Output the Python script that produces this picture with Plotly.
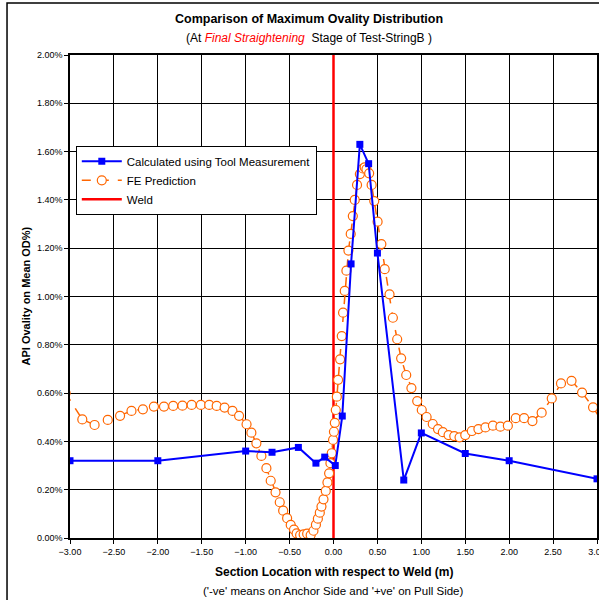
import plotly.graph_objects as go

# Measured ovality (tool measurement), section location in m, ovality in %
meas_x = [-3.0, -2.0, -1.0, -0.7, -0.4, -0.2, -0.1, 0.02, 0.1, 0.2, 0.3, 0.4, 0.5, 0.8, 1.0, 1.5, 2.0, 3.0]
meas_y = [0.32, 0.32, 0.36, 0.355, 0.375, 0.31, 0.335, 0.30, 0.505, 1.135, 1.63, 1.55, 1.18, 0.24, 0.435, 0.35, 0.32, 0.245]

# FE prediction, section location in m, ovality in %
fe_x = [-3.05, -2.86, -2.72, -2.57, -2.43, -2.30, -2.17, -2.045, -1.93, -1.825, -1.72, -1.615,
        -1.51, -1.415, -1.33, -1.24, -1.15, -1.075, -0.99, -0.935, -0.878, -0.821, -0.764,
        -0.715, -0.66, -0.612, -0.573, -0.528, -0.487, -0.45, -0.42, -0.38, -0.34, -0.30,
        -0.26, -0.228, -0.20, -0.178, -0.156, -0.137, -0.114, -0.088, -0.069, -0.05, -0.035,
        -0.02, -0.005, 0.005, 0.015, 0.026, 0.038, 0.052, 0.075, 0.094, 0.109, 0.128, 0.147,
        0.170, 0.196, 0.22, 0.242, 0.268, 0.300, 0.335, 0.355, 0.375, 0.406, 0.434, 0.464,
        0.502, 0.545, 0.583, 0.638, 0.676, 0.725, 0.77, 0.828, 0.887, 0.953, 1.005, 1.06,
        1.13, 1.19, 1.245, 1.31, 1.375, 1.435, 1.50, 1.575, 1.65, 1.73, 1.815, 1.90, 1.985,
        2.075, 2.17, 2.265, 2.37, 2.485, 2.59, 2.71, 2.83, 2.955, 3.08]
fe_y = [0.60, 0.491, 0.468, 0.489, 0.506, 0.526, 0.533, 0.544, 0.544, 0.547, 0.548, 0.551,
        0.551, 0.551, 0.547, 0.540, 0.526, 0.506, 0.471, 0.436, 0.392, 0.340, 0.289,
        0.237, 0.189, 0.148, 0.113, 0.082, 0.054, 0.035, 0.019, 0.012, 0.015, 0.018,
        0.012, 0.030, 0.055, 0.080, 0.105, 0.130, 0.160, 0.195, 0.230, 0.268, 0.31,
        0.351, 0.406, 0.44, 0.477, 0.530, 0.585, 0.655, 0.740, 0.836, 0.933, 1.023, 1.107,
        1.190, 1.259, 1.333, 1.400, 1.462, 1.507, 1.530, 1.535, 1.527, 1.510, 1.462, 1.395,
        1.310, 1.217, 1.113, 1.009, 0.912, 0.823, 0.744, 0.675, 0.621, 0.567, 0.530, 0.501,
        0.472, 0.451, 0.438, 0.426, 0.422, 0.417, 0.426, 0.443, 0.451, 0.458, 0.465, 0.461, 0.465,
        0.496, 0.496, 0.484, 0.519, 0.578, 0.640, 0.651, 0.602, 0.541, 0.47]

# Weld position
weld_x = [0.0, 0.0]
weld_y = [0.0, 2.0]

x_ticks = [-3.0, -2.5, -2.0, -1.5, -1.0, -0.5, 0.0, 0.5, 1.0, 1.5, 2.0, 2.5, 3.0]

FONT = "Arial, Liberation Sans, sans-serif"

fig = go.Figure()

fig.add_trace(go.Scatter(
    x=weld_x, y=[v / 100 for v in weld_y], mode="lines", name="Weld",
    line=dict(color="#FF0000", width=2.5), legendrank=3,
))
fig.add_trace(go.Scatter(
    x=fe_x, y=[v / 100 for v in fe_y], mode="lines+markers", name="FE Prediction",
    line=dict(color="#FF6600", width=1.5, dash="dash"),
    marker=dict(symbol="circle", size=9, color="white", line=dict(color="#FF6600", width=1.2)),
    legendrank=2,
))
fig.add_trace(go.Scatter(
    x=meas_x, y=[v / 100 for v in meas_y], mode="lines+markers",
    name="Calculated using Tool Measurement",
    line=dict(color="#0000FF", width=2),
    marker=dict(symbol="square", size=7, color="#0000FF"),
    legendrank=1,
))

fig.update_layout(
    width=599, height=600,
    margin=dict(l=70, r=2, t=55, b=62, autoexpand=False),
    paper_bgcolor="white", plot_bgcolor="white",
    font=dict(family=FONT, color="black"),
    showlegend=True,
    legend=dict(
        x=0.011, y=0.812, xanchor="left", yanchor="top",
        bgcolor="white", bordercolor="black", borderwidth=1,
        font=dict(size=11.5, family=FONT), tracegroupgap=0,
        traceorder="normal", itemwidth=40,
    ),
    xaxis=dict(
        range=[-3, 3], tickvals=x_ticks, tickformat=".2f", automargin=False,
        showgrid=True, gridcolor="black", gridwidth=1, zeroline=False,
        showline=True, linecolor="black", linewidth=1.5, mirror=True,
        ticks="outside", ticklen=4, tickcolor="black",
        tickfont=dict(size=9, family=FONT), ticklabeloverflow="allow",
    ),
    yaxis=dict(
        range=[0, 0.02], dtick=0.002, tickformat=".2%", automargin=False,
        showgrid=True, gridcolor="black", gridwidth=1, zeroline=False,
        showline=True, linecolor="black", linewidth=1.5, mirror=True,
        ticks="outside", ticklen=4, tickcolor="black",
        tickfont=dict(size=9, family=FONT),
    ),
    shapes=[dict(
        type="rect", xref="paper", yref="paper",
        x0=-0.1195, x1=1.05, y0=-0.3, y1=1.1077,
        line=dict(color="black", width=1.5), layer="below",
    )],
    annotations=[
        dict(text="<b>Comparison of Maximum Ovality Distribution</b>",
             xref="paper", yref="paper", x=0.453, y=1.0, yshift=45,
             showarrow=False, font=dict(size=12.5, family=FONT)),
        dict(text="(At <i><span style='color:#FF0000'>Final Straightening</span></i>  Stage of Test-StringB )",
             xref="paper", yref="paper", x=0.453, y=1.0, yshift=26,
             showarrow=False, font=dict(size=12, family=FONT)),
        dict(text="<b>Section Location with respect to Weld (m)</b>",
             xref="paper", yref="paper", x=0.5, y=0.0, yshift=-43,
             showarrow=False, font=dict(size=12, family=FONT)),
        dict(text="('-ve' means on Anchor Side and '+ve' on Pull Side)",
             xref="paper", yref="paper", x=0.5, y=0.0, yshift=-61,
             showarrow=False, font=dict(size=11.5, family=FONT)),
        dict(text="<b>API Ovality on Mean OD%)</b>",
             xref="paper", yref="paper", x=0.0, xshift=-45, y=0.5,
             xanchor="center", yanchor="middle",
             textangle=-90, showarrow=False, font=dict(size=11, family=FONT)),
    ],
)

fig.write_html("out.html")
